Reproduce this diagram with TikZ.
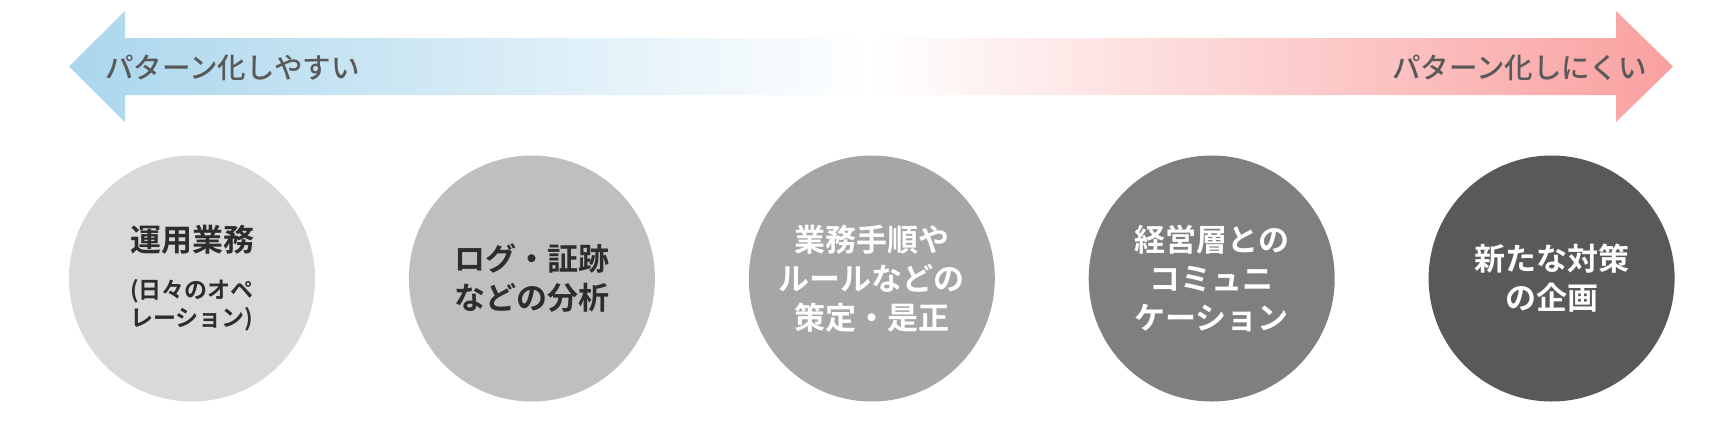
\documentclass[tikz,border=0pt]{standalone}
\usepackage{fontspec}
\newfontfamily\jpfont{Noto Sans CJK JP}[BoldFont={Noto Sans CJK JP Bold}]
\newfontfamily\jpmedium{Noto Sans CJK JP Medium}
\usetikzlibrary{positioning}
\definecolor{easyblue}{RGB}{170,214,236}
\definecolor{hardpink}{RGB}{250,160,160}
\definecolor{labelgray}{RGB}{89,89,89}
\definecolor{darktext}{RGB}{45,45,45}
\definecolor{grayA}{RGB}{217,217,217}
\definecolor{grayB}{RGB}{191,191,191}
\definecolor{grayC}{RGB}{166,166,166}
\definecolor{grayD}{RGB}{127,127,127}
\definecolor{grayE}{RGB}{89,89,89}
\newcommand{\subfont}{\fontsize{23}{28}\selectfont}
\begin{document}
\begin{tikzpicture}[x=1pt,y=-1pt,
    stage/.style={circle,minimum size=246pt,inner sep=0pt,align=center,
      font=\jpfont\bfseries\fontsize{31}{39}\selectfont},
    tag/.style={font=\jpmedium\fontsize{28.5}{34}\selectfont,text=labelgray,inner sep=0pt}]
  \useasboundingbox (0,0) rectangle (1715,426);

  % double arrow with blue to pink fade
  \shade[left color=easyblue,right color=hardpink,middle color=white]
    (69,66.5) -- (125,11) -- (125,38) -- (1616,38) -- (1616,11) -- (1673,66.5)
    -- (1616,122) -- (1616,95) -- (125,95) -- (125,122) -- cycle;
  \node[tag,anchor=west] (easy) at (105,68) {パターン化しやすい};
  \node[tag,anchor=east] (hard) at (1647,68) {パターン化しにくい};

  \node[stage,fill=grayA,text=darktext] (ops) at (192,278.5)
    {運用業務\\[8pt]{\subfont (日々のオペ}\\[-11pt]{\subfont レーション)}};
  \node[stage,fill=grayB,text=darktext,right=93.5pt of ops] (logs) {ログ・証跡\\などの分析};
  \node[stage,fill=grayC,text=white,right=93.5pt of logs] (rules) {業務手順や\\ルールなどの\\策定・是正};
  \node[stage,fill=grayD,text=white,right=93.5pt of rules] (mgmt) {経営層との\\コミュニ\\ケーション};
  \node[stage,fill=grayE,text=white,right=93.5pt of mgmt] (plan) {新たな対策\\の企画};
\end{tikzpicture}
\end{document}
